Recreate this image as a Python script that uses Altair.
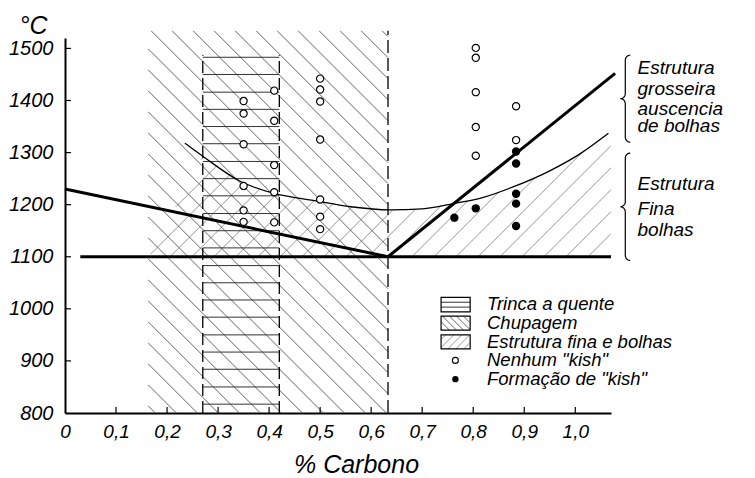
import altair as alt
import numpy as np
import pandas as pd

# ---------------- values ----------------
x_label_values = [0, 0.1, 0.2, 0.3, 0.4, 0.5, 0.6, 0.7, 0.8, 0.9, 1.0]
x_tick_values = [0.1, 0.2, 0.3, 0.4, 0.5, 0.6, 0.7, 0.8, 0.9, 1.0]
y_label_values = [800, 900, 1000, 1100, 1200, 1300, 1400, 1500]
y_tick_values = [900, 1000, 1100, 1200, 1300, 1400, 1500]

# "Nenhum kish" (open circles)
open_x = [0.35, 0.35, 0.35, 0.35, 0.35, 0.35,
          0.41, 0.41, 0.41, 0.41, 0.41,
          0.50, 0.50, 0.50, 0.50, 0.50, 0.50, 0.50,
          0.805, 0.805, 0.805, 0.805, 0.805,
          0.884, 0.884]
open_t = [1399, 1375, 1316, 1236, 1189, 1167,
          1419, 1361, 1276, 1224, 1166,
          1442, 1421, 1398, 1325, 1210, 1177, 1153,
          1501, 1482, 1416, 1349, 1294,
          1389, 1324]
# "Formação de kish" (filled dots)
filled_x = [0.763, 0.805, 0.884, 0.884, 0.884, 0.884, 0.884]
filled_t = [1175, 1193, 1302, 1279, 1221, 1202, 1159]

# thin boundary curve
curve_x = [0.235, 0.27, 0.343, 0.408, 0.494, 0.56, 0.637, 0.70, 0.761, 0.82, 0.878, 0.95, 1.01, 1.065]
curve_t = [1318, 1293, 1245, 1222, 1207, 1196, 1190, 1192, 1202, 1214, 1234, 1265, 1298, 1337]

# heavy lines
thick1_x = [0.0, 0.633]
thick1_t = [1230, 1100]
thick2_x = [0.633, 1.078]
thick2_t = [1100, 1452]
line1100_x = [0.03, 1.07]
line1100_t = [1100, 1100]

# zones
trinca_x = [0.27, 0.42]
trinca_t = [800, 1487]
trinca_lines_t = [817, 850, 884, 917, 950, 984, 1017, 1050, 1083, 1117, 1150,
                  1183, 1217, 1250, 1283, 1317, 1350, 1383, 1416, 1450, 1483]
chupagem_x = [0.163, 0.633]
chupagem_t = [800, 1534]
fina_edge_x = [0.165, 0.27]
fina_edge_t = [1100, 1293]
fina_x_max = 1.07

# legend
legend_labels = ["Trinca a quente", "Chupagem", "Estrutura fina e bolhas",
                 'Nenhum "kish"', 'Formação de "kish"']
legend_t = [1009, 972, 936, 901, 865]
legend_box_lo = [994, 959, 923]
legend_box_hi = [1022, 986, 950]
legend_box_x = [0.737, 0.794]
legend_sym_x = 0.765
legend_text_x = 0.827

# notes on the right
note_lines = ["Estrutura", "grosseira", "auscencia", "de bolhas", "Estrutura", "Fina", "bolhas"]
note_t = [1450, 1411, 1373, 1339, 1229, 1181, 1139]
note_x = 1.122
brace_top = [1487, 1299]
brace_bot = [1320, 1093]
brace_x = 1.098

# ---------------- geometry helpers ----------------
W, H = 546, 375
XMAX, TMIN, TMAX = 1.07, 800, 1520
PX_X = W / XMAX
PX_T = H / (TMAX - TMIN)

FONT = "Liberation Sans"

xs = alt.Scale(domain=[0, XMAX], nice=False, zero=False)
ys = alt.Scale(domain=[TMIN, TMAX], nice=False, zero=False)

x_axis = alt.Axis(values=x_label_values, ticks=False, grid=False, domainColor="black", domainWidth=2,
                  labelExpr="datum.value == 0 ? '0' : replace(format(datum.value, '.1f'), '.', ',')",
                  labelFont=FONT, labelFontStyle="italic", labelFontSize=19, labelColor="black",
                  labelPadding=9, labelFlush=False, labelOverlap=False,
                  title="% Carbono", titleFont=FONT, titleFontStyle="italic", titleFontWeight="normal",
                  titleFontSize=25, titleColor="black", titleX=291, titleY=59, titleAlign="center",
                  titleBaseline="alphabetic")
y_axis = alt.Axis(values=y_label_values, format="d", ticks=False, grid=False, domainColor="black",
                  domainWidth=2, labelFont=FONT, labelFontStyle="italic", labelFontSize=20,
                  labelColor="black", labelPadding=12, labelFlush=False, labelOverlap=False,
                  title="°C", titleFont=FONT, titleFontStyle="italic", titleFontWeight="normal",
                  titleFontSize=25, titleColor="black", titleAngle=0, titleX=-32, titleY=-5,
                  titleAlign="center", titleBaseline="alphabetic")

XE = alt.X("x:Q", scale=xs, axis=x_axis)
YE = alt.Y("t:Q", scale=ys, axis=y_axis)


def hatch(inside, x_rng, t_rng, step_px, slope, phase_px=0.0):
    X = np.arange(x_rng[0] * PX_X - 1, x_rng[1] * PX_X + 1, 0.25)
    y_lo, y_hi = t_rng[0] * PX_T, t_rng[1] * PX_T
    cs = [y - slope * x for x in (X[0], X[-1]) for y in (y_lo, y_hi)]
    k0 = np.floor((min(cs) - phase_px) / step_px)
    k1 = np.ceil((max(cs) - phase_px) / step_px)
    rows = []
    for k in np.arange(k0, k1 + 1):
        c = phase_px + k * step_px
        Y = c + slope * X
        xd, td = X / PX_X, Y / PX_T
        m = inside(xd, td).astype(int)
        d = np.diff(np.concatenate([[0], m, [0]]))
        starts = np.where(d == 1)[0]
        ends = np.where(d == -1)[0] - 1
        for s, e in zip(starts, ends):
            if e > s:
                rows.append(dict(x=xd[s], t=td[s], x2=xd[e], t2=td[e]))
    return pd.DataFrame(rows)


def in_chup(x, t):
    return (x >= chupagem_x[0]) & (x <= chupagem_x[1]) & (t >= chupagem_t[0]) & (t <= chupagem_t[1])


ub_x = [fina_edge_x[0]] + curve_x[1:]
ub_t = [fina_edge_t[0]] + curve_t[1:]


def in_fina(x, t):
    ub = np.interp(x, ub_x, ub_t)
    return (x >= fina_edge_x[0]) & (x <= fina_x_max) & (t >= 1100) & (t <= ub)


chup_df = hatch(in_chup, chupagem_x, chupagem_t, 21, -1, 3)
fina_df = hatch(in_fina, [fina_edge_x[0], fina_x_max], [1100, 1340], 22, 1, 6)

trinca_df = pd.DataFrame(dict(x=trinca_x[0], t=trinca_lines_t, x2=trinca_x[1], t2=trinca_lines_t))
borders_df = pd.DataFrame(dict(x=[trinca_x[0], trinca_x[1]], t=[trinca_t[0]] * 2,
                               x2=[trinca_x[0], trinca_x[1]], t2=[trinca_t[1]] * 2))
dash63_df = pd.DataFrame(dict(x=[chupagem_x[1]], t=[chupagem_t[0]], x2=[chupagem_x[1]], t2=[chupagem_t[1]]))

# legend box hatching
lb = legend_box_x


def rect_inside(lo, hi):
    return lambda x, t: (x >= lb[0]) & (x <= lb[1]) & (t >= lo) & (t <= hi)


leg_h = pd.DataFrame(dict(x=lb[0], x2=lb[1],
                          t=[legend_box_lo[0] + (legend_box_hi[0] - legend_box_lo[0]) * f for f in (1 / 3, 2 / 3)]))
leg_h["t2"] = leg_h["t"]
leg_c = hatch(rect_inside(legend_box_lo[1], legend_box_hi[1]), lb, [legend_box_lo[1], legend_box_hi[1]], 7, -1, 2)
leg_f = hatch(rect_inside(legend_box_lo[2], legend_box_hi[2]), lb, [legend_box_lo[2], legend_box_hi[2]], 8, 1, 2)
leg_box_df = pd.DataFrame(dict(x=lb[0], x2=lb[1], t=legend_box_lo, t2=legend_box_hi))


# braces
def brace(xc, t_top, t_bot, bid, r=5.0):
    X = xc * PX_X
    yt, yb = t_top * PX_T, t_bot * PX_T
    ym = (yt + yb) / 2
    pts = []

    def arc(cx, cy, a0, a1):
        for a in np.linspace(np.radians(a0), np.radians(a1), 10):
            pts.append((cx + r * np.cos(a), cy + r * np.sin(a)))

    arc(X + r, yt - r, 90, 180)
    arc(X - r, ym + r, 0, -90)
    arc(X - r, ym - r, 90, 0)
    arc(X + r, yb + r, 180, 270)
    return pd.DataFrame(dict(x=[p[0] / PX_X for p in pts], t=[p[1] / PX_T for p in pts],
                             i=range(len(pts)), id=bid))


brace_df = pd.concat([brace(brace_x, brace_top[k], brace_bot[k], k) for k in range(2)])


# ---------------- layers ----------------
def rules(df, color, width, dash=None):
    kw = dict(color=color, strokeWidth=width)
    if dash:
        kw["strokeDash"] = dash
    return alt.Chart(df).mark_rule(**kw).encode(x=XE, y=YE, x2=alt.X2("x2"), y2=alt.Y2("t2"))


def polyline(xv, tv, width, interp="linear"):
    df = pd.DataFrame(dict(x=xv, t=tv, i=range(len(xv))))
    return alt.Chart(df).mark_line(color="black", strokeWidth=width, interpolate=interp).encode(
        x=XE, y=YE, order="i:Q")


xt = pd.DataFrame(dict(x=x_tick_values, x2=x_tick_values, t=TMIN, t2=TMIN + 6 / PX_T))
yt = pd.DataFrame(dict(x=0.0, x2=6 / PX_X, t=y_tick_values, t2=y_tick_values))

open_df = pd.DataFrame(dict(x=open_x, t=open_t))
filled_df = pd.DataFrame(dict(x=filled_x, t=filled_t))

open_layer = alt.Chart(open_df).mark_circle(fill="white", stroke="black", strokeWidth=1.2,
                                            size=52, opacity=1).encode(x=XE, y=YE)
filled_layer = alt.Chart(filled_df).mark_circle(color="black", size=70, opacity=1).encode(x=XE, y=YE)

brace_layer = alt.Chart(brace_df).mark_line(color="black", strokeWidth=1.2).encode(
    x=XE, y=YE, order="i:Q", detail="id:N")

leg_text_df = pd.DataFrame(dict(x=legend_text_x, t=legend_t, label=legend_labels))
leg_text = alt.Chart(leg_text_df).mark_text(align="left", baseline="middle", font=FONT,
                                            fontStyle="italic", fontSize=18.5, color="black").encode(
    x=XE, y=YE, text="label:N")
leg_box = alt.Chart(leg_box_df).mark_rect(fill=None, stroke="black", strokeWidth=1.2).encode(
    x=XE, y=YE, x2=alt.X2("x2"), y2=alt.Y2("t2"))
leg_open = alt.Chart(pd.DataFrame(dict(x=[legend_sym_x], t=[legend_t[3]]))).mark_circle(
    fill="white", stroke="black", strokeWidth=1.1, size=36, opacity=1).encode(x=XE, y=YE)
leg_fill = alt.Chart(pd.DataFrame(dict(x=[legend_sym_x], t=[legend_t[4]]))).mark_circle(
    color="black", size=40, opacity=1).encode(x=XE, y=YE)

note_df = pd.DataFrame(dict(x=note_x, t=note_t, label=note_lines))
notes = alt.Chart(note_df).mark_text(align="left", baseline="alphabetic", font=FONT,
                                     fontStyle="italic", fontSize=19, color="black").encode(
    x=XE, y=YE, text="label:N")

base = polyline(line1100_x, line1100_t, 3)

chart = alt.layer(
    rules(fina_df, "#8a8a8a", 0.9),
    rules(chup_df, "#555555", 0.9),
    rules(trinca_df, "#333333", 1.0),
    rules(borders_df, "black", 1.3, [12, 5]),
    rules(dash63_df, "black", 1.3, [13, 5]),
    base,
    polyline(thick1_x, thick1_t, 3),
    polyline(thick2_x, thick2_t, 3),
    polyline(curve_x, curve_t, 1.3, "monotone"),
    rules(xt, "black", 1.2),
    rules(yt, "black", 1.2),
    open_layer,
    filled_layer,
    rules(leg_h, "#333333", 1.0),
    rules(leg_c, "#555555", 0.9),
    rules(leg_f, "#8a8a8a", 0.9),
    leg_box,
    leg_open,
    leg_fill,
    leg_text,
    brace_layer,
    notes,
).properties(
    width=W, height=H,
    autosize=alt.AutoSizeParams(type="none"),
    padding={"left": 65, "top": 38, "right": 144, "bottom": 65},
    background="white",
).configure_view(stroke=None)

chart.save("out.html", embed_options={"renderer": "svg", "actions": False})
